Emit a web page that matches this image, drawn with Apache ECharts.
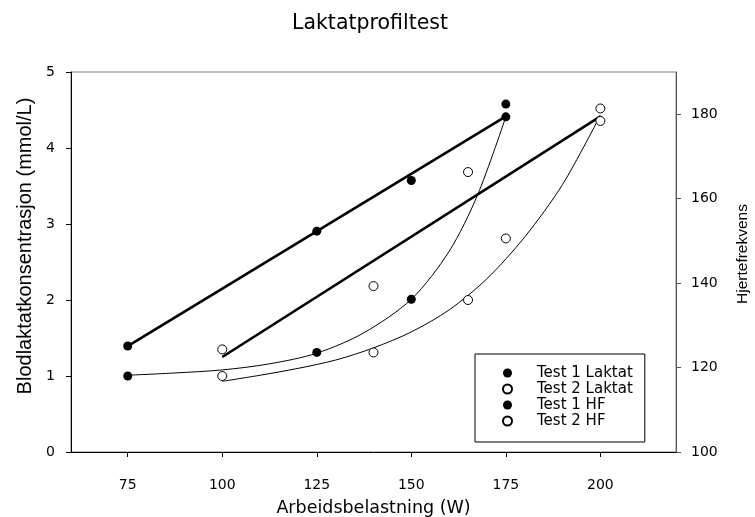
<!DOCTYPE html>
<html>
<head>
<meta charset="utf-8">
<script src="https://cdn.jsdelivr.net/npm/echarts@6/dist/echarts.min.js"></script>
<style>
  html, body { margin: 0; padding: 0; background: #fff; }
  #chart { width: 755px; height: 517px; }
</style>
</head>
<body>
<div id="chart"></div>
<script>
// Axis ticks
const loadTicks = [75, 100, 125, 150, 175, 200];
const hrTicks = [100, 120, 140, 160, 180];

// Test 1 measurements (load in W)
const t1Load = [75, 125, 150, 175];
const t1Lactate = [1.0, 1.31, 2.01, 4.41];
const t1HR = [125.1, 152.3, 164.3, 182.4];

// Test 2 measurements
const t2LactateLoad = [100, 140, 165, 175, 200];
const t2Lactate = [1.0, 1.31, 2.0, 2.81, 4.52];
const t2HRLoad = [100, 140, 165, 200];
const t2HR = [124.3, 139.3, 166.3, 178.4];

// Fitted lactate curves
const t1CurveLoad = [75, 87.5, 100, 112.5, 125, 137.5, 150, 160, 167.5, 175];
const t1CurveLactate = [1.01, 1.04, 1.08, 1.16, 1.30, 1.57, 2.01, 2.64, 3.38, 4.41];
const t2CurveLoad = [100, 110, 120, 130, 140, 150, 160, 170, 180, 190, 200];
const t2CurveLactate = [0.93, 1.01, 1.10, 1.21, 1.37, 1.58, 1.87, 2.28, 2.83, 3.52, 4.43];

// Linear heart-rate regressions
const t1HRLineLoad = [75, 175];
const t1HRLine = [125.1, 179.5];
const t2HRLineLoad = [100, 200];
const t2HRLine = [122.5, 179.5];

const zip = (xs, ys) => xs.map((x, i) => [x, ys[i]]);

const FONT = 'DejaVu Sans';
const filled = { color: '#000', borderColor: '#000', borderWidth: 0, opacity: 1 };
const hollow = { color: '#fff', borderColor: '#000', borderWidth: 1, opacity: 1 };

const chart = echarts.init(document.getElementById('chart'), null, { renderer: 'canvas' });

chart.setOption({
  animation: false,
  backgroundColor: '#fff',
  title: {
    text: 'Laktatprofiltest',
    left: 292,
    top: 13,
    padding: 0,
    textStyle: { fontFamily: FONT, fontSize: 20.5, fontWeight: 'normal', color: '#000' }
  },
  grid: {
    left: 71, right: 79, top: 72, bottom: 65,
    outerBoundsMode: 'none',
    containLabel: false,
    show: true, borderColor: '#808080', borderWidth: 1, backgroundColor: 'transparent'
  },
  legend: {
    orient: 'vertical',
    left: 475,
    top: 354,
    padding: [11, 12, 13, 27],
    itemGap: 0,
    itemWidth: 9,
    itemHeight: 9,
    borderColor: '#000',
    borderWidth: 1,
    backgroundColor: '#fff',
    data: ['Test 1 Laktat', 'Test 2 Laktat', 'Test 1 HF', 'Test 2 HF'],
    textStyle: { fontFamily: FONT, fontSize: 15, color: '#000', lineHeight: 16, padding: [0, 0, 0, 20] }
  },
  xAxis: {
    type: 'value',
    min: 60,
    max: 220,
    name: 'Arbeidsbelastning (W)',
    nameLocation: 'middle',
    nameGap: 47,
    nameTextStyle: { fontFamily: FONT, fontSize: 17.5, color: '#000' },
    axisLine: { show: true, onZero: false, lineStyle: { color: '#000', width: 1 } },
    axisTick: { show: true, length: 5, customValues: loadTicks, lineStyle: { color: '#000' } },
    axisLabel: { margin: 26, customValues: loadTicks, fontFamily: FONT, fontSize: 14, color: '#000' },
    splitLine: { show: false }
  },
  yAxis: [
    {
      type: 'value',
      min: 0, max: 5, interval: 1,
      name: 'Blodlaktatkonsentrasjon (mmol/L)',
      nameLocation: 'middle',
      nameGap: 28,
      nameRotate: 90,
      nameTextStyle: { fontFamily: 'Liberation Sans', fontSize: 20, color: '#000', padding: [0, 0, 0, 32] },
      axisLine: { show: true, onZero: false, lineStyle: { color: '#000', width: 1 } },
      axisTick: { show: true, length: 5, lineStyle: { color: '#000' } },
      axisLabel: { margin: 16, fontFamily: FONT, fontSize: 14, color: '#000' },
      splitLine: { show: false }
    },
    {
      type: 'value',
      min: 100, max: 190,
      position: 'right',
      name: 'Hjertefrekvens',
      nameLocation: 'middle',
      nameGap: 59,
      nameRotate: 90,
      nameTextStyle: { fontFamily: 'Liberation Sans', fontSize: 15.5, color: '#000', padding: [0, 0, 0, 16] },
      axisLine: { show: true, onZero: false, lineStyle: { color: '#555', width: 1 } },
      axisTick: { show: true, length: 5, customValues: hrTicks, lineStyle: { color: '#555' } },
      axisLabel: { margin: 15, customValues: hrTicks, fontFamily: FONT, fontSize: 14, color: '#000' },
      splitLine: { show: false }
    }
  ],
  series: [
    {
      type: 'line', silent: true, showSymbol: false, symbol: 'none', smooth: 0.3, z: 2,
      yAxisIndex: 0,
      lineStyle: { color: '#000', width: 1 },
      data: zip(t1CurveLoad, t1CurveLactate)
    },
    {
      type: 'line', silent: true, showSymbol: false, symbol: 'none', smooth: 0.3, z: 2,
      yAxisIndex: 0,
      lineStyle: { color: '#000', width: 1 },
      data: zip(t2CurveLoad, t2CurveLactate)
    },
    {
      type: 'line', silent: true, showSymbol: false, symbol: 'none', z: 2,
      yAxisIndex: 1,
      lineStyle: { color: '#000', width: 2.6 },
      data: zip(t1HRLineLoad, t1HRLine)
    },
    {
      type: 'line', silent: true, showSymbol: false, symbol: 'none', z: 2,
      yAxisIndex: 1,
      lineStyle: { color: '#000', width: 2.6 },
      data: zip(t2HRLineLoad, t2HRLine)
    },
    {
      name: 'Test 1 Laktat', type: 'scatter', yAxisIndex: 0, z: 5,
      symbol: 'circle', symbolSize: 9, itemStyle: filled,
      data: zip(t1Load, t1Lactate)
    },
    {
      name: 'Test 2 Laktat', type: 'scatter', yAxisIndex: 0, z: 5,
      symbol: 'circle', symbolSize: 9, itemStyle: hollow,
      data: zip(t2LactateLoad, t2Lactate)
    },
    {
      name: 'Test 1 HF', type: 'scatter', yAxisIndex: 1, z: 5,
      symbol: 'circle', symbolSize: 9, itemStyle: filled,
      data: zip(t1Load, t1HR)
    },
    {
      name: 'Test 2 HF', type: 'scatter', yAxisIndex: 1, z: 5,
      symbol: 'circle', symbolSize: 9, itemStyle: hollow,
      data: zip(t2HRLoad, t2HR)
    }
  ]
});
</script>
</body>
</html>
